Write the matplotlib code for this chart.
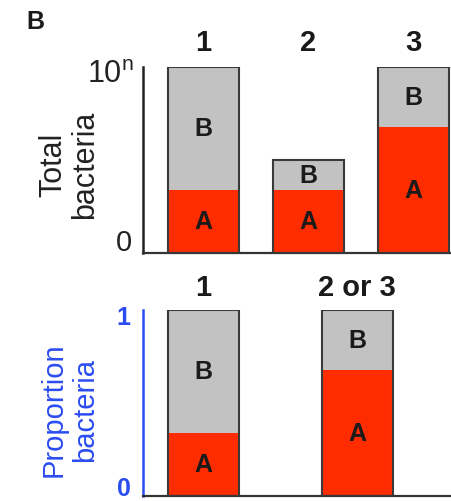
import matplotlib
matplotlib.use("Agg")
import matplotlib.pyplot as plt

plt.rcParams['font.family'] = ['Liberation Sans', 'DejaVu Sans']
plt.rcParams['mathtext.fontset'] = 'custom'
plt.rcParams['mathtext.rm'] = 'Liberation Sans'
plt.rcParams['mathtext.it'] = 'Liberation Sans'

# Data
top_categories = ["1", "2", "3"]
top_A = [0.34, 0.34, 0.68]
top_B = [0.66, 0.16, 0.32]
bottom_categories = ["1", "2 or 3"]
bottom_A = [0.34, 0.68]
bottom_B = [0.66, 0.32]

RED = '#ff2c00'
GRAY = '#c2c2c2'
EDGE = '#3a3a3a'
BLUE = '#2b4cf2'

W, H = 451, 502
fig = plt.figure(figsize=(W / 100, H / 100), dpi=100)

def stacked(ax, cats, a, b, width):
    x = list(range(len(cats)))
    ax.bar(x, a, width=width, color=RED, edgecolor='none', zorder=2)
    ax.bar(x, b, bottom=a, width=width, color=GRAY, edgecolor='none', zorder=2)
    tot = [ai + bi for ai, bi in zip(a, b)]
    ax.bar(x, tot, width=width, fill=False, edgecolor=EDGE, linewidth=1.5, zorder=3)
    for xi, ai, bi in zip(x, a, b):
        ax.text(xi, ai / 2, 'A', ha='center', va='center', fontsize=18,
                fontweight='bold', color='#1a1a1a', zorder=4)
        ax.text(xi, ai + bi / 2, 'B', ha='center', va='center', fontsize=18,
                fontweight='bold', color='#1a1a1a', zorder=4)
    for xi, c in zip(x, cats):
        ax.text(xi, 1.0, c, transform=ax.get_xaxis_transform(), ha='center',
                va='bottom', fontsize=21, fontweight='bold', color='#1a1a1a')
    ax.set_ylim(0, 1)
    ax.set_xticks([])
    ax.set_yticks([])
    for s in ['top', 'right']:
        ax.spines[s].set_visible(False)
    ax.spines['bottom'].set_color('#333333')
    ax.spines['bottom'].set_linewidth(1.6)

# Top panel
ax1 = fig.add_axes([143 / W, 1 - 254 / H, (W - 143) / W, 186 / H])
stacked(ax1, top_categories, top_A, top_B, 0.676)
ax1.set_xlim(-0.576, 2.357)
ax1.spines['left'].set_color('#222222')
ax1.spines['left'].set_linewidth(1.8)
for t in ax1.texts[-3:]:
    t.set_y(1.06)
ax1.text(-0.03, 0.96, '10$^{n}$', transform=ax1.transAxes, ha='right', va='center',
         fontsize=22, color='#222222')
ax1.text(-0.035, 0.06, '0', transform=ax1.transAxes, ha='right', va='center',
         fontsize=21, color='#222222')
ax1.text(-0.24, 0.48, 'Total\nbacteria', transform=ax1.transAxes, ha='center',
         va='center', rotation=90, fontsize=22, color='#222222', linespacing=1.1)
fig.text(26 / W, 1 - 22 / H, 'B', ha='left', va='center', fontsize=18,
         fontweight='bold', color='#1a1a1a')

# Bottom panel
ax2 = fig.add_axes([143 / W, 1 - 497 / H, (W - 143) / W, 186 / H])
stacked(ax2, bottom_categories, bottom_A, bottom_B, 0.4625)
ax2.set_xlim(-0.394, 1.612)
ax2.spines['left'].set_color(BLUE)
ax2.spines['left'].set_linewidth(1.8)
for t in ax2.texts[-2:]:
    t.set_y(1.05)
ax2.text(-0.04, 0.965, '1', transform=ax2.transAxes, ha='right', va='center',
         fontsize=18, fontweight='bold', color=BLUE)
ax2.text(-0.04, 0.045, '0', transform=ax2.transAxes, ha='right', va='center',
         fontsize=18, fontweight='bold', color=BLUE)
ax2.text(-0.24, 0.47, 'Proportion\nbacteria', transform=ax2.transAxes, ha='center',
         va='center', rotation=90, fontsize=21, color=BLUE, linespacing=1.15)

fig.savefig('out.png', dpi=100)
